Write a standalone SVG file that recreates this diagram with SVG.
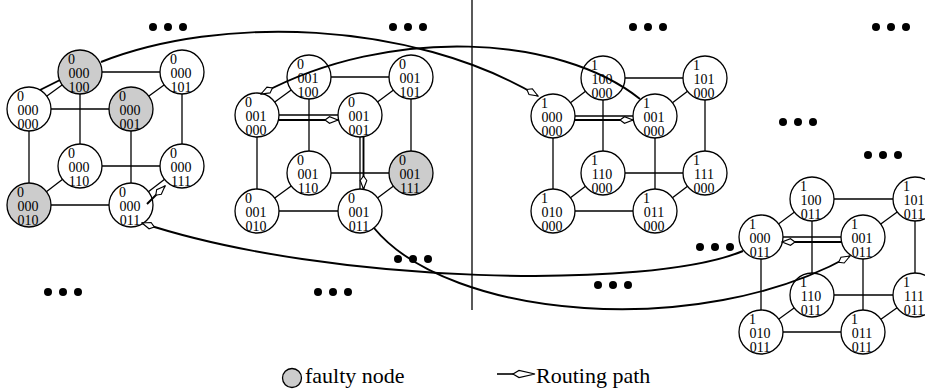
<svg xmlns="http://www.w3.org/2000/svg" width="925" height="391" viewBox="0 0 925 391">
<style>
.e line{stroke:#000;stroke-width:1.3}
.n circle{fill:#fff;stroke:#000;stroke-width:1.3}
.f circle{fill:#cccccc}
.n text{font-family:"Liberation Serif","Times New Roman",serif;font-size:14px;fill:#000}
.m{text-anchor:middle}
.r{fill:none;stroke:#000;stroke-width:1.9}
.h{marker-end:url(#ah)}
.dot{fill:#000}
.lg{font-family:"Liberation Serif","Times New Roman",serif;font-size:22px;fill:#000}
</style>
<defs>
<marker id="ah" markerUnits="userSpaceOnUse" viewBox="-15 -5 16 10" markerWidth="16" markerHeight="10" refX="0" refY="0" orient="auto">
<path d="M0,0 L-8.5,-3.3 L-13,0 L-8.5,3.3 Z" fill="#fff" stroke="#000" stroke-width="1.1"/>
</marker>
</defs>
<rect width="925" height="391" fill="#fff"/>
<line x1="472" y1="0" x2="472" y2="310" stroke="#000" stroke-width="1.3"/>
<g id="dots">
<circle class="dot" cx="153" cy="27" r="4"/><circle class="dot" cx="168" cy="27" r="4"/><circle class="dot" cx="183" cy="27" r="4"/>
<circle class="dot" cx="393" cy="27" r="4"/><circle class="dot" cx="408" cy="27" r="4"/><circle class="dot" cx="423" cy="27" r="4"/>
<circle class="dot" cx="633" cy="27" r="4"/><circle class="dot" cx="648" cy="27" r="4"/><circle class="dot" cx="663" cy="27" r="4"/>
<circle class="dot" cx="876" cy="27" r="4"/><circle class="dot" cx="891" cy="27" r="4"/><circle class="dot" cx="906" cy="27" r="4"/>
<circle class="dot" cx="783" cy="122" r="4"/><circle class="dot" cx="798" cy="122" r="4"/><circle class="dot" cx="813" cy="122" r="4"/>
<circle class="dot" cx="868" cy="155" r="4"/><circle class="dot" cx="883" cy="155" r="4"/><circle class="dot" cx="898" cy="155" r="4"/>
<circle class="dot" cx="700" cy="247" r="4"/><circle class="dot" cx="715" cy="247" r="4"/><circle class="dot" cx="730" cy="247" r="4"/>
<circle class="dot" cx="598" cy="285" r="4"/><circle class="dot" cx="613" cy="285" r="4"/><circle class="dot" cx="628" cy="285" r="4"/>
<circle class="dot" cx="48" cy="292" r="4"/><circle class="dot" cx="63" cy="292" r="4"/><circle class="dot" cx="78" cy="292" r="4"/>
<circle class="dot" cx="318" cy="292" r="4"/><circle class="dot" cx="333" cy="292" r="4"/><circle class="dot" cx="348" cy="292" r="4"/>
<circle class="dot" cx="398" cy="259" r="4"/><circle class="dot" cx="413" cy="259" r="4"/><circle class="dot" cx="428" cy="259" r="4"/>
</g>
<g id="edges" class="e">
<line x1="80" y1="72" x2="182" y2="72"/><line x1="80" y1="166" x2="182" y2="166"/><line x1="80" y1="72" x2="80" y2="166"/><line x1="182" y1="72" x2="182" y2="166"/>
<line x1="29" y1="109" x2="131" y2="109"/><line x1="29" y1="205" x2="131" y2="205"/><line x1="29" y1="109" x2="29" y2="205"/><line x1="131" y1="109" x2="131" y2="205"/>
<line x1="29" y1="109" x2="80" y2="72"/><line x1="131" y1="109" x2="182" y2="72"/><line x1="29" y1="205" x2="80" y2="166"/><line x1="131" y1="205" x2="182" y2="166"/>
<line x1="309" y1="77" x2="411" y2="77"/><line x1="309" y1="173" x2="411" y2="173"/><line x1="309" y1="77" x2="309" y2="173"/><line x1="411" y1="77" x2="411" y2="173"/>
<line x1="257" y1="115" x2="360" y2="115"/><line x1="257" y1="211" x2="360" y2="211"/><line x1="257" y1="115" x2="257" y2="211"/><line x1="360" y1="115" x2="360" y2="211"/>
<line x1="257" y1="115" x2="309" y2="77"/><line x1="360" y1="115" x2="411" y2="77"/><line x1="257" y1="211" x2="309" y2="173"/><line x1="360" y1="211" x2="411" y2="173"/>
<line x1="603" y1="78" x2="705" y2="78"/><line x1="603" y1="173" x2="705" y2="173"/><line x1="603" y1="78" x2="603" y2="173"/><line x1="705" y1="78" x2="705" y2="173"/>
<line x1="553" y1="116" x2="655" y2="116"/><line x1="553" y1="211" x2="655" y2="211"/><line x1="553" y1="116" x2="553" y2="211"/><line x1="655" y1="116" x2="655" y2="211"/>
<line x1="553" y1="116" x2="603" y2="78"/><line x1="655" y1="116" x2="705" y2="78"/><line x1="553" y1="211" x2="603" y2="173"/><line x1="655" y1="211" x2="705" y2="173"/>
<line x1="812" y1="199" x2="915" y2="199"/><line x1="812" y1="295" x2="915" y2="295"/><line x1="812" y1="199" x2="812" y2="295"/><line x1="915" y1="199" x2="915" y2="295"/>
<line x1="761" y1="237" x2="863" y2="237"/><line x1="761" y1="332" x2="863" y2="332"/><line x1="761" y1="237" x2="761" y2="332"/><line x1="863" y1="237" x2="863" y2="332"/>
<line x1="761" y1="237" x2="812" y2="199"/><line x1="863" y1="237" x2="915" y2="199"/><line x1="761" y1="332" x2="812" y2="295"/><line x1="863" y1="332" x2="915" y2="295"/>
</g>
<g id="n0000100" class="n f"><circle cx="80" cy="72" r="22"/><text x="68" y="64">0</text><text class="m" x="79" y="78">000</text><text class="m" x="79" y="92">100</text></g>
<g id="n0000101" class="n"><circle cx="182" cy="72" r="22"/><text x="170" y="64">0</text><text class="m" x="181" y="78">000</text><text class="m" x="181" y="92">101</text></g>
<g id="n0000000" class="n"><circle cx="29" cy="109" r="22"/><text x="17" y="101">0</text><text class="m" x="28" y="115">000</text><text class="m" x="28" y="129">000</text></g>
<g id="n0000001" class="n f"><circle cx="131" cy="109" r="22"/><text x="119" y="101">0</text><text class="m" x="130" y="115">000</text><text class="m" x="130" y="129">001</text></g>
<g id="n0000110" class="n"><circle cx="80" cy="166" r="22"/><text x="68" y="158">0</text><text class="m" x="79" y="172">000</text><text class="m" x="79" y="186">110</text></g>
<g id="n0000111" class="n"><circle cx="182" cy="166" r="22"/><text x="170" y="158">0</text><text class="m" x="181" y="172">000</text><text class="m" x="181" y="186">111</text></g>
<g id="n0000010" class="n f"><circle cx="29" cy="205" r="22"/><text x="17" y="197">0</text><text class="m" x="28" y="211">000</text><text class="m" x="28" y="225">010</text></g>
<g id="n0000011" class="n"><circle cx="131" cy="205" r="22"/><text x="119" y="197">0</text><text class="m" x="130" y="211">000</text><text class="m" x="130" y="225">011</text></g>
<g id="n0001100" class="n"><circle cx="309" cy="77" r="22"/><text x="297" y="69">0</text><text class="m" x="308" y="83">001</text><text class="m" x="308" y="97">100</text></g>
<g id="n0001101" class="n"><circle cx="411" cy="77" r="22"/><text x="399" y="69">0</text><text class="m" x="410" y="83">001</text><text class="m" x="410" y="97">101</text></g>
<g id="n0001000" class="n"><circle cx="257" cy="115" r="22"/><text x="245" y="107">0</text><text class="m" x="256" y="121">001</text><text class="m" x="256" y="135">000</text></g>
<g id="n0001001" class="n"><circle cx="360" cy="115" r="22"/><text x="348" y="107">0</text><text class="m" x="359" y="121">001</text><text class="m" x="359" y="135">001</text></g>
<g id="n0001110" class="n"><circle cx="309" cy="173" r="22"/><text x="297" y="165">0</text><text class="m" x="308" y="179">001</text><text class="m" x="308" y="193">110</text></g>
<g id="n0001111" class="n f"><circle cx="411" cy="173" r="22"/><text x="399" y="165">0</text><text class="m" x="410" y="179">001</text><text class="m" x="410" y="193">111</text></g>
<g id="n0001010" class="n"><circle cx="257" cy="211" r="22"/><text x="245" y="203">0</text><text class="m" x="256" y="217">001</text><text class="m" x="256" y="231">010</text></g>
<g id="n0001011" class="n"><circle cx="360" cy="211" r="22"/><text x="348" y="203">0</text><text class="m" x="359" y="217">001</text><text class="m" x="359" y="231">011</text></g>
<g id="n1100000" class="n"><circle cx="603" cy="78" r="22"/><text x="591" y="70">1</text><text class="m" x="602" y="84">100</text><text class="m" x="602" y="98">000</text></g>
<g id="n1101000" class="n"><circle cx="705" cy="78" r="22"/><text x="693" y="70">1</text><text class="m" x="704" y="84">101</text><text class="m" x="704" y="98">000</text></g>
<g id="n1000000" class="n"><circle cx="553" cy="116" r="22"/><text x="541" y="108">1</text><text class="m" x="552" y="122">000</text><text class="m" x="552" y="136">000</text></g>
<g id="n1001000" class="n"><circle cx="655" cy="116" r="22"/><text x="643" y="108">1</text><text class="m" x="654" y="122">001</text><text class="m" x="654" y="136">000</text></g>
<g id="n1110000" class="n"><circle cx="603" cy="173" r="22"/><text x="591" y="165">1</text><text class="m" x="602" y="179">110</text><text class="m" x="602" y="193">000</text></g>
<g id="n1111000" class="n"><circle cx="705" cy="173" r="22"/><text x="693" y="165">1</text><text class="m" x="704" y="179">111</text><text class="m" x="704" y="193">000</text></g>
<g id="n1010000" class="n"><circle cx="553" cy="211" r="22"/><text x="541" y="203">1</text><text class="m" x="552" y="217">010</text><text class="m" x="552" y="231">000</text></g>
<g id="n1011000" class="n"><circle cx="655" cy="211" r="22"/><text x="643" y="203">1</text><text class="m" x="654" y="217">011</text><text class="m" x="654" y="231">000</text></g>
<g id="n1100011" class="n"><circle cx="812" cy="199" r="22"/><text x="800" y="191">1</text><text class="m" x="811" y="205">100</text><text class="m" x="811" y="219">011</text></g>
<g id="n1101011" class="n"><circle cx="915" cy="199" r="22"/><text x="903" y="191">1</text><text class="m" x="914" y="205">101</text><text class="m" x="914" y="219">011</text></g>
<g id="n1000011" class="n"><circle cx="761" cy="237" r="22"/><text x="749" y="229">1</text><text class="m" x="760" y="243">000</text><text class="m" x="760" y="257">011</text></g>
<g id="n1001011" class="n"><circle cx="863" cy="237" r="22"/><text x="851" y="229">1</text><text class="m" x="862" y="243">001</text><text class="m" x="862" y="257">011</text></g>
<g id="n1110011" class="n"><circle cx="812" cy="295" r="22"/><text x="800" y="287">1</text><text class="m" x="811" y="301">110</text><text class="m" x="811" y="315">011</text></g>
<g id="n1111011" class="n"><circle cx="915" cy="295" r="22"/><text x="903" y="287">1</text><text class="m" x="914" y="301">111</text><text class="m" x="914" y="315">011</text></g>
<g id="n1010011" class="n"><circle cx="761" cy="332" r="22"/><text x="749" y="324">1</text><text class="m" x="760" y="338">010</text><text class="m" x="760" y="352">011</text></g>
<g id="n1011011" class="n"><circle cx="863" cy="332" r="22"/><text x="851" y="324">1</text><text class="m" x="862" y="338">011</text><text class="m" x="862" y="352">011</text></g>
<g id="connectors">
<path class="r" d="M40,90 L60,80"/>
<path class="r h" d="M101,62 C220,15 410,20 538,96"/>
<path class="r h" d="M575,120 L633,120"/>
<path class="r h" d="M640,99 C560,35 390,25 261,94"/>
<path class="r h" d="M279,120 L338,120"/>
<path class="r h" d="M363.5,137 L363.5,189"/>
<path class="r h" d="M374,228 C450,320 700,340 850,256"/>
<path class="r h" d="M842,242 L782,242"/>
<path class="r h" d="M743,251 C650,290 330,285 142,223"/>
<path class="r h" d="M147,204 L165,186"/>
</g>
<g id="legend">
<circle cx="292" cy="378" r="9.5" fill="#cccccc" stroke="#000" stroke-width="1.3"/>
<text class="lg" x="305" y="383">faulty node</text>
<line x1="497" y1="374" x2="514" y2="374" stroke="#000" stroke-width="1.6"/>
<polygon points="513,374 519,370.5 535,374 519,377.5" fill="#fff" stroke="#000" stroke-width="1.2"/>
<text class="lg" x="536" y="383">Routing path</text>
</g>
</svg>
